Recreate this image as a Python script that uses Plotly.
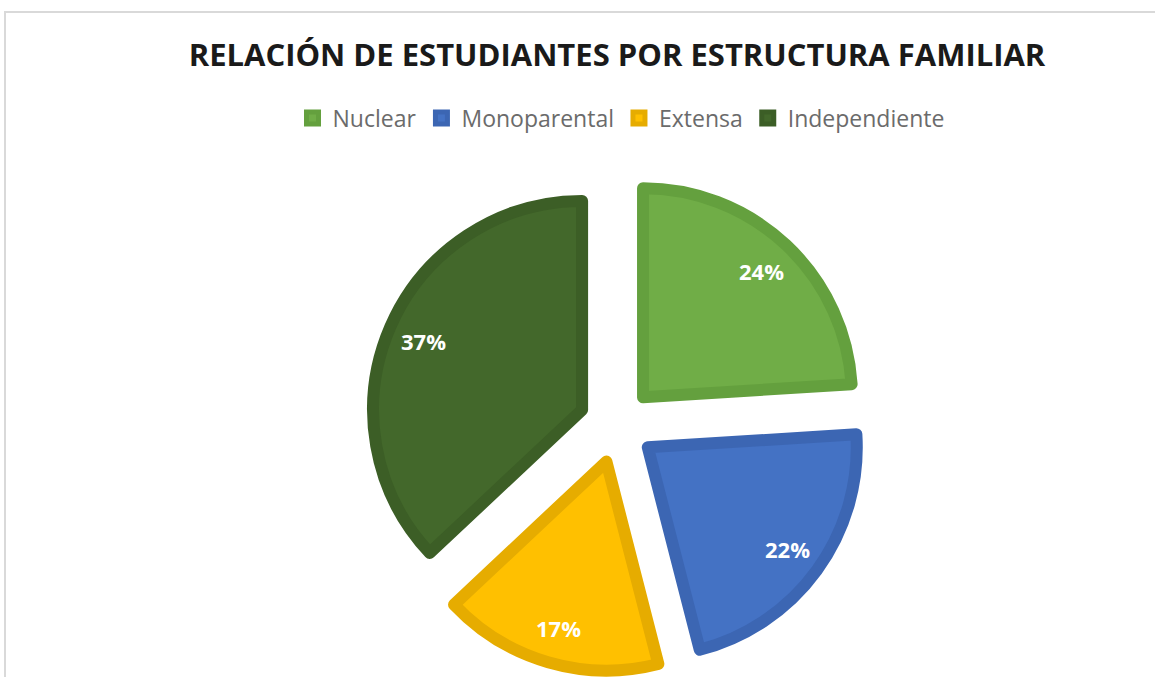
import math
import plotly.graph_objects as go

categories = ["Nuclear", "Monoparental", "Extensa", "Independiente"]
values = [24, 22, 17, 37]
fill_colors = ["#70AD47", "#4472C4", "#FFC000", "#43682B"]
edge_colors = ["#64A03E", "#3C66B3", "#E6AC00", "#3C5E26"]
title_text = "RELACIÓN DE ESTUDIANTES POR ESTRUCTURA FAMILIAR"

W, H = 1155, 677
cx, cy = 617, 425          # pie centre in px
pull = 0.182
radius = 209
side = 2 * radius * (1 + pull)
label_frac = 0.828

fig = go.Figure(go.Pie(
    labels=categories,
    values=values,
    sort=False,
    direction="clockwise",
    rotation=0,
    pull=[pull] * len(values),
    marker=dict(colors=fill_colors, line=dict(color=edge_colors, width=12)),
    textinfo="none",
    domain=dict(x=[(cx - side / 2) / W, (cx + side / 2) / W],
                y=[1 - (cy + side / 2) / H, 1 - (cy - side / 2) / H]),
    hoverinfo="label+percent",
))

# percentage labels placed along each slice bisector (derived from the values)
total = sum(values)
cum = 0
annotations = []
for v in values:
    mid = (cum + v / 2) / total * 2 * math.pi
    cum += v
    dist = pull * radius + label_frac * radius
    px = cx + dist * math.sin(mid)
    py = cy - dist * math.cos(mid)
    annotations.append(dict(
        x=px / W, y=1 - py / H, xref="paper", yref="paper",
        text=f"{round(v / total * 100)}%", showarrow=False,
        font=dict(family="Open Sans", size=22, color="white", weight="bold"),
        xanchor="center", yanchor="middle"))

fig.update_layout(
    width=W, height=H,
    paper_bgcolor="white",
    plot_bgcolor="white",
    margin=dict(l=0, r=0, t=0, b=0),
    title=dict(text=title_text, x=617 / W, xanchor="center", y=1 - 55 / H, yanchor="middle",
               font=dict(family="Open Sans", size=31, color="#1a1a1a", weight="bold")),
    legend=dict(orientation="h", x=621 / W, xanchor="center", y=1 - 118 / H, yanchor="middle",
                font=dict(family="Open Sans", size=23, color="#6b6b6b"),
                itemwidth=30, traceorder="normal"),
    annotations=annotations,
    shapes=[dict(type="rect", xref="paper", yref="paper",
                 x0=5 / W, x1=1.05, y0=-0.05, y1=1 - 12 / H,
                 line=dict(color="#d9d9d9", width=2), fillcolor="rgba(0,0,0,0)", layer="below")],
)

fig.write_html("out.html", config={"displayModeBar": False},
               post_script="document.body.style.margin='0';")
